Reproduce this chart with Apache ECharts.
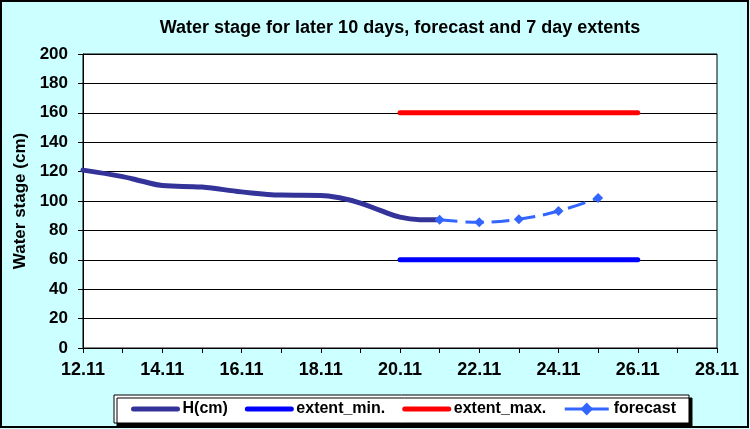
<!DOCTYPE html>
<html>
<head>
<meta charset="utf-8">
<script src="https://cdn.jsdelivr.net/npm/echarts@6/dist/echarts.min.js"></script>
<style>
html,body{margin:0;padding:0;background:#CCFFFF;}
#chart{width:750px;height:429px;}
</style>
</head>
<body>
<div id="chart"></div>
<script>
// Data (day of November)
var hDays = [12, 13, 13.5, 14, 15, 16, 17, 18, 18.5, 19, 19.5, 20, 20.5, 21];
var hValues = [121, 116.6, 113.4, 110.5, 109.5, 106.2, 104, 103.8, 102, 98.6, 93.6, 89, 87.3, 87.2];
var forecastDays = [21, 22, 23, 24, 25];
var forecastValues = [87.2, 85.5, 87.6, 93.2, 102];
var extentDays = [20, 26];
var extentMin = [60, 60];
var extentMax = [160, 160];
var seriesNames = ['H(cm)', 'extent_min.', 'extent_max.', 'forecast'];
var titleText = 'Water stage for later 10 days, forecast and 7 day extents';
var yName = 'Water stage (cm)';

function pairs(xs, ys) { return xs.map(function (x, i) { return [x, ys[i]]; }); }

var FONT = '"Liberation Sans", Arial, sans-serif';
var chart = echarts.init(document.getElementById('chart'), null, { renderer: 'canvas' });
chart.setOption({
  backgroundColor: '#CCFFFF',
  animation: false,
  title: {
    text: titleText,
    left: 400,
    textAlign: 'center',
    top: 19,
    padding: 0,
    textStyle: { fontFamily: FONT, fontWeight: 'bold', fontSize: 18, color: '#000' }
  },
  graphic: [{
    type: 'rect',
    shape: { x: 1, y: 1, width: 747, height: 426 },
    style: { fill: 'none', stroke: '#000', lineWidth: 2 },
    silent: true, z: 100
  }],
  grid: {
    left: 83, right: 33, top: 54, bottom: 81,
    show: true, backgroundColor: '#fff', borderColor: '#000', borderWidth: 1,
    containLabel: false
  },
  legend: {
    data: [
      { name: seriesNames[0], itemStyle: { opacity: 0 }, lineStyle: { width: 5 } },
      { name: seriesNames[1], itemStyle: { opacity: 0 }, lineStyle: { width: 5 } },
      { name: seriesNames[2], itemStyle: { opacity: 0 }, lineStyle: { width: 5 } },
      { name: seriesNames[3], lineStyle: { width: 3 } }
    ],
    left: 114,
    top: 395,
    padding: [6, 13, 6, 17],
    itemGap: 17,
    itemWidth: 44,
    itemHeight: 16,
    backgroundColor: '#fff',
    borderColor: '#000',
    borderWidth: 1,
    shadowColor: '#000',
    shadowBlur: 0,
    shadowOffsetX: 3,
    shadowOffsetY: 3,
    textStyle: { fontFamily: FONT, fontWeight: 'bold', fontSize: 16, color: '#000' }
  },
  xAxis: {
    type: 'value',
    min: 12, max: 28, interval: 2,
    axisLine: { show: true, lineStyle: { color: '#000', width: 1 } },
    axisTick: { show: true, length: 5, inside: false, lineStyle: { color: '#000' } },
    minorTick: { show: true, splitNumber: 2, length: 5, lineStyle: { color: '#000' } },
    splitLine: { show: false },
    axisLabel: {
      margin: 13,
      fontFamily: FONT, fontWeight: 'bold', fontSize: 18, color: '#000', lineHeight: 18,
      formatter: function (v) { return v + '.11'; }
    }
  },
  yAxis: {
    type: 'value',
    min: 0, max: 200, interval: 20,
    name: yName,
    nameLocation: 'middle',
    nameGap: 47,
    nameTextStyle: { fontFamily: FONT, fontWeight: 'bold', fontSize: 17, color: '#000' },
    axisLine: { show: true, lineStyle: { color: '#000', width: 1 } },
    axisTick: { show: true, length: 5, inside: false, lineStyle: { color: '#000' } },
    splitLine: { show: true, lineStyle: { color: '#000', width: 1 } },
    axisLabel: { margin: 15, fontFamily: FONT, fontWeight: 'bold', fontSize: 17, color: '#000' }
  },
  series: [
    {
      name: seriesNames[0], type: 'line', data: pairs(hDays, hValues),
      smooth: 0.4, showSymbol: false, symbol: 'none',
      lineStyle: { color: '#333399', width: 5, cap: 'round' },
      itemStyle: { color: '#333399' }, z: 2
    },
    {
      name: seriesNames[1], type: 'line', data: pairs(extentDays, extentMin),
      showSymbol: false, symbol: 'none',
      lineStyle: { color: '#0000FF', width: 5, cap: 'round' },
      itemStyle: { color: '#0000FF' }, z: 2
    },
    {
      name: seriesNames[2], type: 'line', data: pairs(extentDays, extentMax),
      showSymbol: false, symbol: 'none',
      lineStyle: { color: '#FF0000', width: 5, cap: 'round' },
      itemStyle: { color: '#FF0000' }, z: 2
    },
    {
      name: seriesNames[3], type: 'line', data: pairs(forecastDays, forecastValues),
      smooth: 0.4, symbol: 'diamond', symbolSize: 10, showSymbol: true,
      lineStyle: { color: '#3366FF', width: 3, type: [18, 8] },
      itemStyle: { color: '#3366FF' }, z: 3
    }
  ]
});
</script>
</body>
</html>
